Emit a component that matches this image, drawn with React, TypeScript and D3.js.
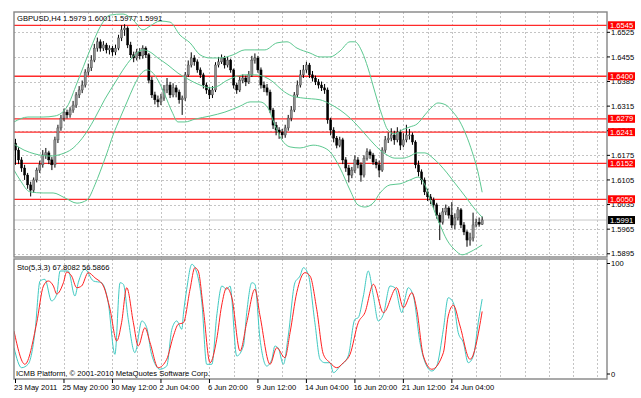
import React from 'react';
import * as d3 from 'd3';

// GBPUSD H4 chart with Bollinger bands, horizontal levels and a Stochastic(5,3,3) sub-window

const symbolTitle = 'GBPUSD,H4  1.5979 1.6001 1.5977 1.5991';
const stochTitle = 'Sto(5,3,3) 67.8082 56.5866';
const copyright = 'ICMB Platform, \u00a9 2001-2010 MetaQuotes Software Corp.';

const timeLabels = [
  '23 May 2011', '25 May 20:00', '30 May 12:00', '2 Jun 04:00', '6 Jun 20:00',
  '9 Jun 12:00', '14 Jun 04:00', '16 Jun 20:00', '21 Jun 12:00', '24 Jun 04:00',
];
const priceTicks = [1.6525, 1.6455, 1.6385, 1.6315, 1.6245, 1.6175, 1.6105, 1.6035, 1.5965, 1.5895];
const levelLines = [1.6545, 1.64, 1.6279, 1.6241, 1.6152, 1.605];
const lastPrice = 1.5991;

const opens = [
  1.6210, 1.6190, 1.6162, 1.6139, 1.6119, 1.6091, 1.6076, 1.6105, 1.6133, 1.6148,
  1.6176, 1.6182, 1.6162, 1.6148, 1.6219, 1.6253, 1.6281, 1.6298, 1.6290, 1.6304,
  1.6318, 1.6347, 1.6361, 1.6375, 1.6412, 1.6424, 1.6446, 1.6480, 1.6498, 1.6480,
  1.6489, 1.6475, 1.6480, 1.6469, 1.6480, 1.6509, 1.6532, 1.6537, 1.6489, 1.6461,
  1.6452, 1.6469, 1.6458, 1.6480, 1.6461, 1.6389, 1.6347, 1.6333, 1.6327, 1.6338,
  1.6361, 1.6375, 1.6347, 1.6367, 1.6355, 1.6333, 1.6338, 1.6404, 1.6432, 1.6452,
  1.6441, 1.6418, 1.6404, 1.6375, 1.6361, 1.6347, 1.6361, 1.6432, 1.6441, 1.6452,
  1.6432, 1.6446, 1.6418, 1.6375, 1.6361, 1.6389, 1.6395, 1.6384, 1.6404, 1.6446,
  1.6452, 1.6418, 1.6375, 1.6367, 1.6355, 1.6304, 1.6261, 1.6247, 1.6241, 1.6233,
  1.6253, 1.6281, 1.6304, 1.6347, 1.6375, 1.6404, 1.6418, 1.6432, 1.6404, 1.6395,
  1.6384, 1.6375, 1.6367, 1.6361, 1.6276, 1.6247, 1.6224, 1.6204, 1.6219, 1.6162,
  1.6139, 1.6119, 1.6133, 1.6162, 1.6148, 1.6119, 1.6167, 1.6185, 1.6176, 1.6156,
  1.6148, 1.6133, 1.6190, 1.6219, 1.6224, 1.6233, 1.6219, 1.6241, 1.6204, 1.6219,
  1.6233, 1.6233, 1.6213, 1.6148, 1.6128, 1.6105, 1.6071, 1.6057, 1.6048, 1.6034,
  1.6005, 1.5985, 1.6014, 1.6025, 1.6005, 1.5977, 1.5997, 1.6020, 1.5977, 1.5957,
  1.5934, 1.5940, 1.5977, 1.5985, 1.5979,
];
const highs = [
  1.6222, 1.6198, 1.6170, 1.6148, 1.6125, 1.6100, 1.6112, 1.6140, 1.6160, 1.6190,
  1.6196, 1.6188, 1.6170, 1.6228, 1.6262, 1.6290, 1.6308, 1.6305, 1.6312, 1.6330,
  1.6355, 1.6372, 1.6388, 1.6420, 1.6436, 1.6460, 1.6492, 1.6510, 1.6505, 1.6500,
  1.6495, 1.6488, 1.6486, 1.6490, 1.6518, 1.6545, 1.6548, 1.6542, 1.6498, 1.6470,
  1.6478, 1.6480, 1.6488, 1.6485, 1.6466, 1.6398, 1.6356, 1.6345, 1.6350, 1.6375,
  1.6395, 1.6384, 1.6380, 1.6375, 1.6362, 1.6345, 1.6412, 1.6445, 1.6468, 1.6460,
  1.6448, 1.6425, 1.6410, 1.6382, 1.6370, 1.6372, 1.6440, 1.6455, 1.6462, 1.6458,
  1.6455, 1.6450, 1.6422, 1.6382, 1.6398, 1.6405, 1.6402, 1.6415, 1.6458, 1.6465,
  1.6458, 1.6425, 1.6385, 1.6378, 1.6362, 1.6310, 1.6270, 1.6255, 1.6250, 1.6262,
  1.6290, 1.6315, 1.6355, 1.6388, 1.6418, 1.6432, 1.6441, 1.6438, 1.6415, 1.6402,
  1.6392, 1.6385, 1.6378, 1.6368, 1.6282, 1.6255, 1.6230, 1.6228, 1.6225, 1.6170,
  1.6148, 1.6142, 1.6175, 1.6170, 1.6155, 1.6175, 1.6195, 1.6192, 1.6182, 1.6165,
  1.6160, 1.6198, 1.6230, 1.6240, 1.6252, 1.6245, 1.6255, 1.6248, 1.6238, 1.6262,
  1.6250, 1.6240, 1.6218, 1.6160, 1.6135, 1.6112, 1.6080, 1.6065, 1.6055, 1.6040,
  1.6012, 1.6025, 1.6035, 1.6030, 1.6042, 1.6010, 1.6028, 1.6025, 1.5985, 1.5962,
  1.5955, 1.6012, 1.5995, 1.5998, 1.6001,
];
const lows = [
  1.6148, 1.6150, 1.6128, 1.6105, 1.6080, 1.6058, 1.6068, 1.6098, 1.6125, 1.6140,
  1.6165, 1.6150, 1.6133, 1.6140, 1.6210, 1.6245, 1.6272, 1.6280, 1.6282, 1.6296,
  1.6310, 1.6338, 1.6352, 1.6368, 1.6402, 1.6415, 1.6440, 1.6470, 1.6470, 1.6472,
  1.6465, 1.6462, 1.6458, 1.6460, 1.6474, 1.6500, 1.6515, 1.6480, 1.6452, 1.6440,
  1.6445, 1.6448, 1.6450, 1.6452, 1.6380, 1.6338, 1.6320, 1.6312, 1.6318, 1.6330,
  1.6352, 1.6338, 1.6340, 1.6340, 1.6322, 1.6290, 1.6330, 1.6398, 1.6425, 1.6430,
  1.6410, 1.6395, 1.6365, 1.6350, 1.6335, 1.6338, 1.6355, 1.6425, 1.6435, 1.6422,
  1.6425, 1.6410, 1.6365, 1.6350, 1.6355, 1.6380, 1.6372, 1.6378, 1.6398, 1.6436,
  1.6410, 1.6365, 1.6355, 1.6345, 1.6295, 1.6250, 1.6232, 1.6222, 1.6222, 1.6225,
  1.6245, 1.6272, 1.6298, 1.6340, 1.6368, 1.6395, 1.6410, 1.6395, 1.6385, 1.6375,
  1.6365, 1.6358, 1.6350, 1.6265, 1.6232, 1.6212, 1.6195, 1.6198, 1.6150, 1.6128,
  1.6098, 1.6110, 1.6125, 1.6138, 1.6100, 1.6112, 1.6160, 1.6165, 1.6148, 1.6138,
  1.6113, 1.6128, 1.6182, 1.6210, 1.6215, 1.6205, 1.6212, 1.6190, 1.6198, 1.6212,
  1.6220, 1.6205, 1.6138, 1.6115, 1.6092, 1.6062, 1.6045, 1.6036, 1.6022, 1.5995,
  1.5934, 1.5978, 1.6005, 1.5995, 1.5968, 1.5965, 1.5990, 1.5968, 1.5948, 1.5915,
  1.5918, 1.5930, 1.5970, 1.5972, 1.5977,
];
const closes = [
  1.6190, 1.6162, 1.6139, 1.6119, 1.6091, 1.6076, 1.6105, 1.6133, 1.6148, 1.6176,
  1.6182, 1.6162, 1.6148, 1.6219, 1.6253, 1.6281, 1.6298, 1.6290, 1.6304, 1.6318,
  1.6347, 1.6361, 1.6375, 1.6412, 1.6424, 1.6446, 1.6480, 1.6498, 1.6480, 1.6489,
  1.6475, 1.6480, 1.6469, 1.6480, 1.6509, 1.6532, 1.6537, 1.6489, 1.6461, 1.6452,
  1.6469, 1.6458, 1.6480, 1.6461, 1.6389, 1.6347, 1.6333, 1.6327, 1.6338, 1.6361,
  1.6375, 1.6347, 1.6367, 1.6355, 1.6333, 1.6338, 1.6404, 1.6432, 1.6452, 1.6441,
  1.6418, 1.6404, 1.6375, 1.6361, 1.6347, 1.6361, 1.6432, 1.6441, 1.6452, 1.6432,
  1.6446, 1.6418, 1.6375, 1.6361, 1.6389, 1.6395, 1.6384, 1.6404, 1.6446, 1.6452,
  1.6418, 1.6375, 1.6367, 1.6355, 1.6304, 1.6261, 1.6247, 1.6241, 1.6233, 1.6253,
  1.6281, 1.6304, 1.6347, 1.6375, 1.6404, 1.6418, 1.6432, 1.6404, 1.6395, 1.6384,
  1.6375, 1.6367, 1.6361, 1.6276, 1.6247, 1.6224, 1.6204, 1.6219, 1.6162, 1.6139,
  1.6119, 1.6133, 1.6162, 1.6148, 1.6119, 1.6167, 1.6185, 1.6176, 1.6156, 1.6148,
  1.6133, 1.6190, 1.6219, 1.6224, 1.6233, 1.6219, 1.6241, 1.6204, 1.6219, 1.6233,
  1.6233, 1.6213, 1.6148, 1.6128, 1.6105, 1.6071, 1.6057, 1.6048, 1.6034, 1.6005,
  1.5985, 1.6014, 1.6025, 1.6005, 1.5977, 1.5997, 1.6020, 1.5977, 1.5957, 1.5934,
  1.5940, 1.5977, 1.5985, 1.5979, 1.5991,
];

// Bollinger bands as [bar, price]
const upperBand = [
  [-0.5, 1.6270], [4.1, 1.6284], [9.1, 1.6284], [13, 1.6287], [17, 1.6313], [20.3, 1.6381],
  [24.6, 1.6475], [27.9, 1.6540], [31.2, 1.6574], [35.5, 1.6577], [38.8, 1.6560], [42.1, 1.6532],
  [44.4, 1.6543], [47.7, 1.6557], [51, 1.6554], [54.3, 1.6517], [57.6, 1.6495], [60.9, 1.6461],
  [64.2, 1.6452], [67.5, 1.6452], [71.8, 1.6461], [75.7, 1.6475], [79, 1.6475], [82.3, 1.6475],
  [86.3, 1.6495], [89.6, 1.6498], [92.9, 1.6480], [97.2, 1.6466], [100.5, 1.6455], [103.8, 1.6455],
  [107.1, 1.6472], [110.4, 1.6498], [112, 1.6498], [114.4, 1.6469], [116.3, 1.6424], [118.6, 1.6355],
  [120.9, 1.6290], [122.9, 1.6247], [125.2, 1.6236], [127.5, 1.6247], [130.2, 1.6256], [132.5, 1.6264],
  [135.1, 1.6290], [137.5, 1.6313], [139.4, 1.6324], [142.1, 1.6318], [144.4, 1.6298], [146.7, 1.6270],
  [148.7, 1.6233], [150.7, 1.6185], [152.6, 1.6128], [154, 1.6070],
];
const middleBand = [
  [-0.5, 1.6207], [2.8, 1.6190], [6.4, 1.6179], [11.4, 1.6173], [15.3, 1.6179], [18.6, 1.6193],
  [21.3, 1.6216], [23.9, 1.6247], [26.2, 1.6281], [29.5, 1.6335], [32.8, 1.6381], [36.1, 1.6426],
  [39.4, 1.6461], [42.1, 1.6475], [44.4, 1.6469], [47, 1.6452], [50.3, 1.6432], [53.6, 1.6409],
  [56.9, 1.6392], [60.9, 1.6375], [64.2, 1.6367], [66.8, 1.6372], [69.5, 1.6387], [72.4, 1.6398],
  [75.7, 1.6404], [79, 1.6404], [82.3, 1.6398], [85, 1.6384], [87.9, 1.6361], [91.2, 1.6344],
  [94.9, 1.6338], [100.5, 1.6333], [103.8, 1.6321], [107.1, 1.6304], [110.4, 1.6281], [112.7, 1.6261],
  [115.3, 1.6236], [118, 1.6210], [120.3, 1.6190], [122.6, 1.6176], [125.2, 1.6167], [127.9, 1.6167],
  [130.2, 1.6173], [132.5, 1.6182], [135.1, 1.6182], [137.8, 1.6167], [140.1, 1.6148], [142.4, 1.6125],
  [145, 1.6096], [147, 1.6074], [149.3, 1.6048], [151.6, 1.6022], [154, 1.5999],
];
const lowerBand = [
  [-0.5, 1.6133], [1.5, 1.6105], [4.8, 1.6071], [9.1, 1.6068], [12.4, 1.6068], [16.3, 1.6054],
  [20.3, 1.6039], [23.6, 1.6048], [26.2, 1.6091], [27.9, 1.6128], [30.2, 1.6182], [32.2, 1.6233],
  [34.5, 1.6281], [36.8, 1.6327], [38.8, 1.6367], [41.1, 1.6404], [43.4, 1.6418], [45, 1.6412],
  [47, 1.6389], [49.3, 1.6347], [51.7, 1.6298], [53.6, 1.6270], [55.9, 1.6270], [59.2, 1.6278],
  [64.2, 1.6287], [69.1, 1.6298], [74.1, 1.6315], [77.4, 1.6327], [80.7, 1.6327], [83.3, 1.6310],
  [85.6, 1.6261], [87.9, 1.6219], [90.6, 1.6199], [93.9, 1.6196], [98.2, 1.6204], [101.2, 1.6199],
  [103.8, 1.6185], [107.1, 1.6139], [110.4, 1.6076], [113, 1.6034], [115.3, 1.6028], [118, 1.6039],
  [120.3, 1.6068], [123.6, 1.6091], [126.9, 1.6094], [130.2, 1.6105], [132.8, 1.6113], [135.1, 1.6091],
  [137.5, 1.6034], [140.1, 1.5977], [142.4, 1.5934], [145, 1.5906], [147.4, 1.5892], [150, 1.5900],
  [152.3, 1.5911], [154, 1.5920],
];

// Stochastic main (%K) and signal (%D) as [bar, value]
const stochMain = [
  [-0.5, 23.8], [2, 5.7], [4.2, 9], [6.4, 37.4], [8.1, 84.2], [9.7, 85.7], [11.9, 66.1], [13.6, 72.1],
  [14.7, 93.2], [17.4, 93.2], [19.6, 70.6], [20.7, 82.6], [22.9, 94.8], [25.7, 84.2], [28.4, 82.6],
  [30.6, 64.5], [32.8, 17.8], [34.5, 82.6], [35.6, 81.2], [37.2, 49.5], [39.4, 19.3], [41.7, 48],
  [43.3, 41.9], [44.9, 17.8], [47.7, 4.3], [49.9, 7.2], [51.6, 40.5], [53.2, 48], [54.9, 40.5],
  [55.4, 54], [56.5, 76.7], [58.2, 99.3], [59.2, 96.2], [61.5, 64.5], [63.1, 8.8], [64.8, 8.8],
  [66.4, 52.5], [68.1, 79.6], [69.7, 76.7], [70.8, 79.6], [73, 16.3], [75.2, 25.3], [76.3, 55.5],
  [78, 82.6], [79, 81.2], [80.7, 31.4], [82.9, 7.2], [84.6, 13.3], [85.6, 25.3], [86.7, 23.5],
  [88.4, 8.8], [90, 34.4], [92.2, 82.6], [93.9, 88.7], [95, 96.2], [96.6, 90.2], [98.8, 46.4],
  [100.5, 13.3], [102.1, 10.2], [103.8, 10.2], [104.9, 1.2], [107.1, 7.2], [109.8, 16.3], [112, 49.5],
  [113.1, 51], [114.8, 70.6], [116.4, 93.2], [118.1, 70.6], [119.7, 48], [121.4, 54], [123.6, 79.6],
  [125.2, 78.1], [127.5, 55.5], [128.5, 67.6], [129.6, 78.1], [131.3, 70.6], [133.5, 28.3],
  [135.7, 7.2], [137.4, 2.7], [139, 7.2], [141.2, 40.5], [142.8, 69], [144.5, 64.5], [146.1, 37.4],
  [147.8, 28.3], [149.4, 10.2], [151.1, 16.3], [152.7, 46.4], [154, 67.8],
];
const stochSignal = [
  [-0.5, 38.9], [3.1, 8.8], [7, 46.4], [9.2, 79.6], [10.8, 84.2], [12.5, 79.6], [13.6, 72.4],
  [15.8, 82.6], [16.9, 92.3], [18.5, 88.7], [20.2, 78.1], [21.8, 79.6], [24, 91.7], [26.2, 87.1],
  [29, 79.6], [31.2, 58.5], [33.4, 29.9], [35, 46.4], [36.7, 78.1], [38.9, 46.4], [40.5, 25.3],
  [42.7, 41.9], [44.4, 28.3], [47.1, 5.7], [49.9, 13.3], [52.1, 34.4], [53.7, 45], [55.4, 46.4],
  [57.6, 76.7], [59.2, 96.2], [60.3, 93.2], [62, 58.6], [64.2, 10.2], [66.4, 31.4], [68, 61.5],
  [69.7, 78.1], [71.4, 69], [74.1, 20.8], [76.3, 46.4], [79, 76.7], [80.7, 52.5], [84, 8.8],
  [86.2, 23.8], [88.9, 14.8], [90.6, 37.4], [92.8, 73.6], [95.5, 91.7], [97.2, 88.7], [99.4, 58.6],
  [101.6, 17.8], [103.8, 10.2], [106, 5.7], [108.2, 10.2], [110.4, 17.8], [113.1, 46.4],
  [115.3, 55.5], [118.1, 81.2], [121.4, 55.5], [125.8, 78.1], [128, 60], [130.8, 73.6],
  [132.4, 58.6], [134.6, 16.3], [137.4, 4.3], [141.2, 19.3], [142.8, 52.5], [144.5, 62.2],
  [146.7, 43.4], [150, 13.3], [154, 56.6],
];

const W = 641;
const H = 398;
const left = 14;
const right = 607;
const mainTop = 12;
const mainBottom = 257;
const subTop = 259;
const subBottom = 379;
const barsPerGrid = 8;
const barsPerLabel = 16;
const font = "'Liberation Sans', Arial, sans-serif";

const x = d3.scaleLinear().domain([-0.5, 195.2]).range([left, right]);
const yPrice = d3.scaleLinear().domain([1.58858, 1.65828]).range([mainBottom, mainTop]);
const yStoch = d3.scaleLinear().domain([0, 100]).range([374, 263.5]);

const bandLine = d3.line<number[]>().x(d => x(d[0])).y(d => yPrice(d[1])).curve(d3.curveMonotoneX);
const stochLine = d3.line<number[]>().x(d => x(d[0])).y(d => yStoch(d[1])).curve(d3.curveMonotoneX);

export default function App() {
  const gridBars = d3.range(barsPerGrid, 196, barsPerGrid);
  const fmt = d3.format('.4f');

  return (
    <svg width={W} height={H} style={{ position: 'absolute', left: 0, top: 0, background: '#fff' }}
      fontFamily={font} fontSize={7.6}>
      <defs>
        <clipPath id="mainClip"><rect x={left} y={mainTop} width={right - left} height={mainBottom - mainTop} /></clipPath>
        <clipPath id="subClip"><rect x={left} y={subTop} width={right - left} height={subBottom - subTop} /></clipPath>
      </defs>
      <rect x={0} y={0} width={W} height={H} fill="#fff" />

      {/* grid */}
      <g stroke="#c4c4c4" strokeWidth={1} strokeDasharray="2,2" shapeRendering="crispEdges">
        {gridBars.map(b => (
          <g key={b}>
            <line x1={Math.round(x(b)) + 0.5} x2={Math.round(x(b)) + 0.5} y1={mainTop} y2={mainBottom} />
            <line x1={Math.round(x(b)) + 0.5} x2={Math.round(x(b)) + 0.5} y1={subTop} y2={subBottom} />
          </g>
        ))}
        {priceTicks.map(p => (
          <line key={p} x1={left} x2={right} y1={Math.round(yPrice(p)) + 0.5} y2={Math.round(yPrice(p)) + 0.5} />
        ))}
      </g>

      <g clipPath="url(#mainClip)">
        {/* current price line */}
        <line x1={left} x2={right} y1={yPrice(lastPrice)} y2={yPrice(lastPrice)} stroke="#c8c8c8" strokeWidth={1} />
        {/* horizontal levels */}
        {levelLines.map(p => (
          <line key={p} x1={left} x2={right} y1={yPrice(p)} y2={yPrice(p)} stroke="#ff2a2a" strokeWidth={1.3} />
        ))}
        {/* candles */}
        {closes.map((c, i) => {
          const o = opens[i];
          const bull = c >= o;
          const top = yPrice(Math.max(o, c));
          const bot = yPrice(Math.min(o, c));
          return (
            <g key={i}>
              <line x1={x(i)} x2={x(i)} y1={yPrice(highs[i])} y2={yPrice(lows[i])} stroke="#000" strokeWidth={1} />
              <rect x={x(i) - 1.1} y={top} width={2.2} height={Math.max(bot - top, 0.8)}
                fill={bull ? '#8e8e8e' : '#000'} stroke={bull ? '#444' : '#000'} strokeWidth={0.4} />
            </g>
          );
        })}
        {/* Bollinger bands */}
        <g fill="none" stroke="#5cc890" strokeWidth={1}>
          <path d={bandLine(upperBand) || ''} />
          <path d={bandLine(middleBand) || ''} />
          <path d={bandLine(lowerBand) || ''} />
        </g>
      </g>

      <g clipPath="url(#subClip)" fill="none" strokeWidth={1}>
        <path d={stochLine(stochMain) || ''} stroke="#3fc9c2" />
        <path d={stochLine(stochSignal) || ''} stroke="#ff2020" />
      </g>

      {/* panel frames */}
      <g fill="none" stroke="#858585" strokeWidth={1.4}>
        <rect x={left} y={mainTop} width={right - left} height={mainBottom - mainTop} />
        <rect x={left} y={subTop} width={right - left} height={subBottom - subTop} />
      </g>

      {/* price axis */}
      <g>
        {priceTicks.map(p => (
          <g key={p}>
            <line x1={right} x2={right + 3} y1={yPrice(p)} y2={yPrice(p)} stroke="#000" />
            <text x={right + 4} y={yPrice(p) + 2.7} fill="#000">{fmt(p)}</text>
          </g>
        ))}
        {levelLines.map(p => (
          <g key={p}>
            <rect x={right + 1} y={yPrice(p) - 4} width={27} height={8} fill="#ff0000" />
            <text x={right + 3} y={yPrice(p) + 2.6} fill="#fff">{fmt(p)}</text>
          </g>
        ))}
        <rect x={right + 1} y={yPrice(lastPrice) - 4} width={27} height={8} fill="#000" />
        <text x={right + 3} y={yPrice(lastPrice) + 2.6} fill="#fff">{fmt(lastPrice)}</text>
      </g>

      {/* stochastic axis */}
      <g>
        {[100, 0].map(v => (
          <g key={v}>
            <line x1={right} x2={right + 3} y1={yStoch(v)} y2={yStoch(v)} stroke="#000" />
            <text x={right + 4} y={yStoch(v) + 2.7} fill="#000">{v}</text>
          </g>
        ))}
      </g>

      {/* time axis */}
      <g>
        {timeLabels.map((t, k) => {
          const xb = x(k * barsPerLabel);
          return (
            <g key={t}>
              <line x1={Math.max(xb, left + 1)} x2={Math.max(xb, left + 1)} y1={subBottom} y2={subBottom + 4} stroke="#000" />
              <text x={Math.max(xb - 1.5, left)} y={389.5} fill="#000">{t}</text>
            </g>
          );
        })}
      </g>

      <text x={17} y={20.5} fill="#000">{symbolTitle}</text>
      <text x={17} y={269.5} fill="#000">{stochTitle}</text>
      <text x={16} y={376} fill="#000">{copyright}</text>
    </svg>
  );
}
